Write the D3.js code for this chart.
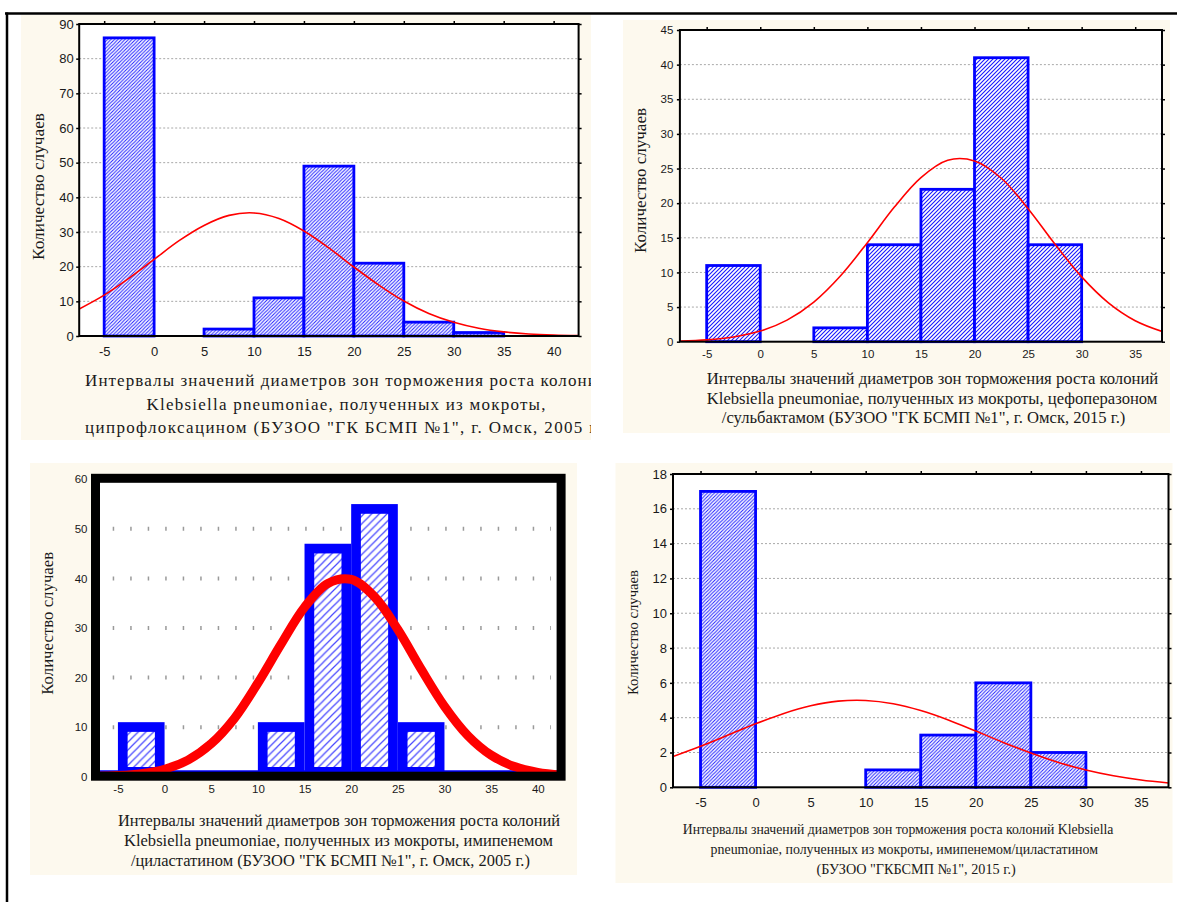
<!DOCTYPE html>
<html><head><meta charset="utf-8">
<script src="https://cdn.jsdelivr.net/npm/d3@7"></script>
<style>body{margin:0;background:#fff} svg{display:block}</style>
</head><body>
<svg id="c" width="1177" height="902"></svg>
<script>
// ---------- DATA ----------
const binStarts = [-5, 0, 5, 10, 15, 20, 25, 30, 35];
const binWidth = 5;
const countsCipro2005 = [86, 0, 2, 11, 49, 21, 4, 1, 0];
const countsCefo2015  = [11, 0, 2, 14, 22, 41, 14, 0, 0];
const countsImi2005   = [11, 0, 0, 11, 47, 55, 11, 0, 0];
const countsImi2015   = [17, 0, 0, 1, 3, 6, 2, 0, 0];

const curveXLong  = [-7.5,-5,-2.5,0,2.5,5,7.5,10,12.5,15,17.5,20,22.5,25,27.5,30,32.5,35,37.5,40,42.5];
const curveXShort = [-7.5,-5,-2.5,0,2.5,5,7.5,10,12.5,15,17.5,20,22.5,25,27.5,30,32.5,35,37.5];
const curveCipro2005 = [7.8,11.8,16.7,22.1,27.5,31.9,34.8,35.5,33.9,30.3,25.4,19.9,14.7,10.1,6.5,3.95,2.24,1.19,0.59,0.27,0.12];
const curveCefo2015  = [0.1,0.27,0.68,1.53,3.12,5.73,9.53,14.3,19.4,23.7,26.2,26.1,23.6,19.2,14.1,9.36,5.61,3.03,1.48];
const curveImi2005   = [0.07,0.22,0.61,1.51,3.35,6.66,11.8,18.9,26.8,34.2,39.0,39.8,36.3,29.7,21.7,14.2,8.3,4.35,2.04,0.86,0.32];
const curveImi2015   = [1.77,2.36,3.0,3.65,4.23,4.68,4.95,4.99,4.80,4.41,3.87,3.23,2.58,1.97,1.43,0.99,0.66,0.42,0.25];

const xTicksLong  = [-5, 0, 5, 10, 15, 20, 25, 30, 35, 40];
const xTicksShort = [-5, 0, 5, 10, 15, 20, 25, 30, 35];
const yTicks1 = [0, 10, 20, 30, 40, 50, 60, 70, 80, 90];
const yTicks2 = [0, 5, 10, 15, 20, 25, 30, 35, 40, 45];
const yTicks3 = [0, 10, 20, 30, 40, 50, 60];
const yTicks4 = [0, 2, 4, 6, 8, 10, 12, 14, 16, 18];
const gridMarks3 = [10, 20, 30, 40, 50];

const yLabel = "Количество случаев";
const title1 = ["Интервалы значений диаметров зон торможения роста колоний",
                "Klebsiella pneumoniae, полученных из мокроты,",
                "ципрофлоксацином (БУЗОО \"ГК БСМП №1\", г. Омск, 2005 г.)"];
const title2 = ["Интервалы значений  диаметров зон торможения роста колоний",
                "Klebsiella pneumoniae, полученных из мокроты, цефоперазоном",
                "/сульбактамом (БУЗОО \"ГК БСМП №1\", г. Омск, 2015 г.)"];
const title3 = ["Интервалы значений диаметров зон торможения роста колоний",
                "Klebsiella pneumoniae, полученных из мокроты, имипенемом",
                "/циластатином (БУЗОО \"ГК БСМП №1\", г. Омск, 2005 г.)"];
const title4 = ["Интервалы значений диаметров зон торможения роста колоний Klebsiella",
                "pneumoniae, полученных из мокроты, имипенемом/циластатином",
                "(БУЗОО \"ГКБСМП №1\", 2015 г.)"];

// ---------- DRAWING ----------
const svg = d3.select('#c');
const defs = svg.append('defs');
const SERIF = "'Liberation Serif','Times New Roman',serif";
const SANS = "'Liberation Sans',Arial,sans-serif";
const NARROW = "'Liberation Sans Narrow','Arial Narrow','Liberation Sans',sans-serif";

function hatch(id, s, color, w) {
  const p = defs.append('pattern').attr('id', id).attr('patternUnits', 'userSpaceOnUse')
    .attr('width', s).attr('height', s);
  p.append('rect').attr('width', s).attr('height', s).attr('fill', '#fff');
  p.append('path').attr('d', `M-1,1 l2,-2 M0,${s} L${s},0 M${s-1},${s+1} l2,-2`)
    .attr('stroke', color).attr('stroke-width', w).attr('fill', 'none');
}
hatch('hFine', 3.5, '#2020ff', 1.0);
hatch('hFine2', 4.0, '#1818ff', 1.1);
hatch('hWide', 7.7, '#4646ff', 1.2);

// outer page border
svg.append('line').attr('x1', 5).attr('x2', 1177).attr('y1', 13.5).attr('y2', 13.5).attr('stroke', '#000').attr('stroke-width', 2.5);
svg.append('line').attr('x1', 7).attr('x2', 7).attr('y1', 12.5).attr('y2', 902).attr('stroke', '#000').attr('stroke-width', 2.5);

let clipN = 0;
function clip(x, y, w, h) {
  const id = 'cl' + (clipN++);
  defs.append('clipPath').attr('id', id).append('rect').attr('x', x).attr('y', y).attr('width', w).attr('height', h);
  return `url(#${id})`;
}

function panel(p) {
  const g = svg.append('g');
  g.append('rect').attr('x', p.bg[0]).attr('y', p.bg[1]).attr('width', p.bg[2]).attr('height', p.bg[3]).attr('fill', '#fdf9ee');
  const x = d3.scaleLinear().domain(p.xDomain).range(p.xRange);
  const y = d3.scaleLinear().domain(p.yDomain).range(p.yRange);
  const L = p.xRange[0], R = p.xRange[1], T = p.yRange[1], B = p.yRange[0];
  g.append('rect').attr('x', L).attr('y', T).attr('width', R - L).attr('height', B - T).attr('fill', '#fff');

  const bins = binStarts.map((s, i) => ({ s, v: p.counts[i] })).filter(d => d.v > 0);

  if (!p.thick) {
    g.append('g').selectAll('line').data(p.yTicks.filter(v => v > p.yDomain[0] && v < p.yDomain[1])).join('line')
      .attr('x1', L).attr('x2', R).attr('y1', d => y(d)).attr('y2', d => y(d))
      .attr('stroke', '#a8a8a8').attr('stroke-width', 1).attr('stroke-dasharray', '2,2');
    g.append('g').selectAll('rect').data(bins).join('rect')
      .attr('x', d => x(d.s)).attr('width', d => x(d.s + binWidth) - x(d.s))
      .attr('y', d => y(d.v)).attr('height', d => y(0) - y(d.v))
      .attr('fill', `url(#${p.hatch})`).attr('stroke', '#0000ff').attr('stroke-width', 2.8);
  } else {
    g.append('g').selectAll('line').data(gridMarks3).join('line')
      .attr('x1', p.markFrom).attr('x2', p.markTo).attr('y1', d => y(d)).attr('y2', d => y(d))
      .attr('stroke', '#9a9a9a').attr('stroke-width', 4).attr('stroke-dasharray', '1.5,16');
    g.append('line').attr('x1', L).attr('x2', R).attr('y1', y(0) - 5.5).attr('y2', y(0) - 5.5)
      .attr('stroke', '#0000ff').attr('stroke-width', 2);
    const ins = 9.7;
    g.append('g').selectAll('rect').data(bins).join('rect')
      .attr('x', d => x(d.s)).attr('width', d => x(d.s + binWidth) - x(d.s))
      .attr('y', d => y(d.v)).attr('height', d => y(0) - y(d.v)).attr('fill', '#0000ff');
    g.append('g').selectAll('rect').data(bins).join('rect')
      .attr('x', d => x(d.s) + ins).attr('width', d => x(d.s + binWidth) - x(d.s) - 2 * ins)
      .attr('y', d => y(d.v) + ins).attr('height', d => y(0) - y(d.v) - 2 * ins).attr('fill', `url(#${p.hatch})`);
  }

  const pts = p.curveX.map((cx, i) => [cx, p.curve[i]]);
  g.append('path').datum(pts)
    .attr('d', d3.line().x(d => x(d[0])).y(d => y(d[1])).curve(d3.curveCatmullRom))
    .attr('fill', 'none').attr('stroke', '#ff0000').attr('stroke-width', p.thick ? 9 : 1.6)
    .attr('clip-path', clip(L, T, R - L, B - T));

  if (p.thick) {
    const f = p.frame;
    g.append('rect').attr('x', f[0]).attr('y', f[1]).attr('width', f[2]).attr('height', f[3])
      .attr('fill', 'none').attr('stroke', '#000').attr('stroke-width', 9);
  } else {
    g.append('rect').attr('x', L).attr('y', T).attr('width', R - L).attr('height', B - T)
      .attr('fill', 'none').attr('stroke', '#000').attr('stroke-width', 2);
    g.append('g').attr('transform', `translate(0,${T})`)
      .call(d3.axisTop(x).tickValues(p.xTicks).tickSize(3).tickFormat(''))
      .call(s => s.select('.domain').remove()).selectAll('line').attr('stroke', '#000').attr('stroke-width', 1.5);
    g.append('g').attr('transform', `translate(${R},0)`)
      .call(d3.axisRight(y).tickValues(p.yTicks).tickSize(3).tickFormat(''))
      .call(s => s.select('.domain').remove()).selectAll('line').attr('stroke', '#000').attr('stroke-width', 1.5);
  }

  const ya = g.append('g').attr('transform', `translate(${p.thick ? p.frame[0] : L},0)`)
    .call(d3.axisLeft(y).tickValues(p.yTicks).tickSize(p.thick ? 0 : 3).tickPadding(p.yPad).tickFormat(d => String(d)));
  const xa = g.append('g').attr('transform', `translate(0,${p.thick ? y(0) : B})`)
    .call(d3.axisBottom(x).tickValues(p.xTicks).tickSize(0).tickPadding(p.xPad).tickFormat(d => String(d)));
  [ya, xa].forEach(a => {
    a.select('.domain').remove();
    a.selectAll('line').attr('stroke', '#000').attr('stroke-width', 1.5);
    a.selectAll('text').attr('font-family', p.tickFont).attr('font-size', p.tickSize).attr('fill', '#1a1a1a');
  });

  g.append('text').attr('transform', `translate(${p.yl[0]},${p.yl[1]}) rotate(-90)`)
    .attr('text-anchor', 'middle').attr('dominant-baseline', 'central')
    .attr('font-family', SERIF).attr('font-size', p.ylSize).attr('fill', '#1a1a1a')
    .attr('textLength', p.yl[2]).attr('lengthAdjust', 'spacingAndGlyphs').text(yLabel);

  const tg = g.append('g').attr('clip-path', clip(p.bg[0], p.bg[1], p.bg[2], p.bg[3]));
  p.title.forEach((t, i) => {
    tg.append('text').attr('x', p.tx[i]).attr('y', p.ty[i])
      .attr('text-anchor', p.tAnchor).attr('font-family', SERIF).attr('font-size', p.tSize).attr('fill', '#1a1a1a')
      .attr('textLength', p.tw[i]).attr('lengthAdjust', p.tAdjust).text(t);
  });
}

panel({
  bg: [21, 15, 570, 425], xDomain: [-7.5, 42.5], xRange: [79.2, 578.6], yDomain: [0, 90], yRange: [336, 24],
  counts: countsCipro2005, curve: curveCipro2005, curveX: curveXLong, xTicks: xTicksLong, yTicks: yTicks1,
  hatch: 'hFine', tickFont: SANS, tickSize: 13, yPad: 2.5, xPad: 11,
  yl: [38, 186.5, 147], ylSize: 17,
  title: title1, tx: [346, 346, 346], ty: [386, 410, 433], tw: [522, 399, 522], tAnchor: 'middle', tSize: 17, tAdjust: 'spacing'
});
panel({
  bg: [623, 20, 547, 413], xDomain: [-7.5, 37.5], xRange: [679.9, 1162], yDomain: [0, 45], yRange: [341.7, 30],
  counts: countsCefo2015, curve: curveCefo2015, curveX: curveXShort, xTicks: xTicksShort, yTicks: yTicks2,
  hatch: 'hFine2', tickFont: NARROW, tickSize: 11.5, yPad: 3.5, xPad: 8.3,
  yl: [640.5, 180.5, 145], ylSize: 16,
  title: title2, tx: [706.8, 706.8, 721.8], ty: [384, 404, 423], tw: [451.5, 450.5, 403.6], tAnchor: 'start', tSize: 16, tAdjust: 'spacingAndGlyphs'
});
panel({
  bg: [30, 463, 547, 412], xDomain: [-7.5, 42.5], xRange: [94.6, 561.1], yDomain: [0, 60], yRange: [776.7, 479.3],
  counts: countsImi2005, curve: curveImi2005, curveX: curveXLong, xTicks: xTicksLong, yTicks: yTicks3,
  thick: true, frame: [95.5, 478.3, 465.6, 297.9], markFrom: 112.7, markTo: 551,
  hatch: 'hWide', tickFont: NARROW, tickSize: 11.5, yPad: 8, xPad: 8.3,
  yl: [47, 623.3, 143], ylSize: 16,
  title: title3, tx: [117.9, 124, 130.9], ty: [826, 846, 866], tw: [442, 429, 399], tAnchor: 'start', tSize: 16, tAdjust: 'spacingAndGlyphs'
});
panel({
  bg: [615.5, 463, 557, 420], xDomain: [-7.5, 37.5], xRange: [673, 1168.5], yDomain: [0, 18], yRange: [787.3, 474],
  counts: countsImi2015, curve: curveImi2015, curveX: curveXShort, xTicks: xTicksShort, yTicks: yTicks4,
  hatch: 'hFine', tickFont: SANS, tickSize: 13, yPad: 3, xPad: 10.7,
  yl: [633, 632.5, 125], ylSize: 15,
  title: title4, tx: [682.8, 710.6, 816.5], ty: [834, 854, 874], tw: [430.6, 387.4, 199.2], tAnchor: 'start', tSize: 15, tAdjust: 'spacingAndGlyphs'
});
</script>
</body></html>
